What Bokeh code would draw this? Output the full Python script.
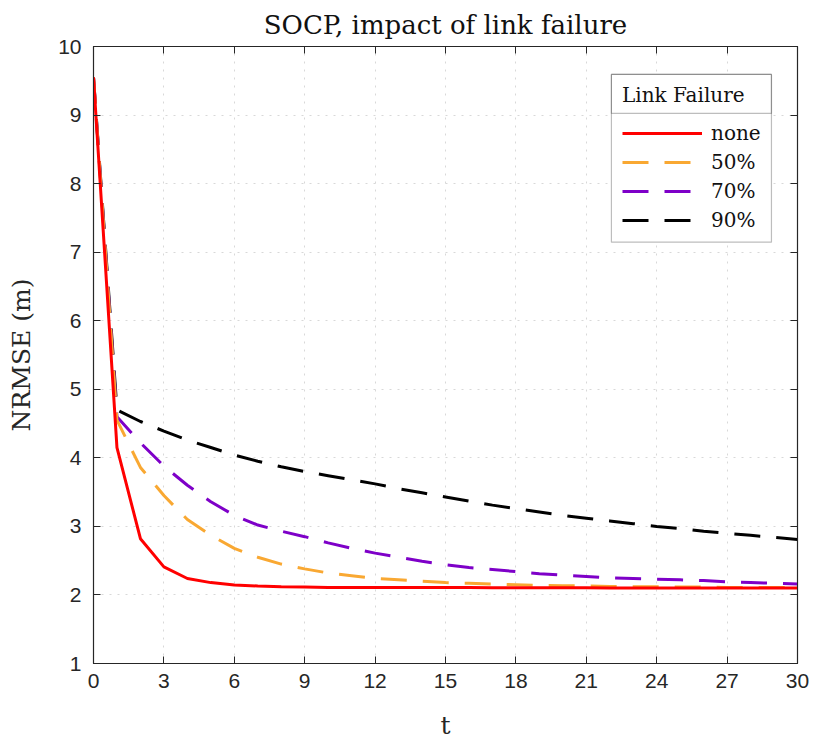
from bokeh.plotting import figure
from bokeh.models import Legend, LegendItem, LinearAxis, Range1d, FixedTicker, BoxAnnotation
from bokeh.embed import file_html
from bokeh.resources import INLINE

t = list(range(0, 31))
none_vals = [9.55, 4.15, 2.82, 2.41, 2.24, 2.18, 2.145, 2.13, 2.12, 2.115, 2.11,
             2.11, 2.11, 2.11, 2.11, 2.11, 2.11, 2.105, 2.105, 2.105, 2.105,
             2.105, 2.1, 2.1, 2.1, 2.1, 2.1, 2.1, 2.1, 2.1, 2.1]
p50_vals = [9.55, 4.55, 3.86, 3.45, 3.1, 2.87, 2.68, 2.55, 2.45, 2.38, 2.32,
            2.28, 2.24, 2.22, 2.2, 2.18, 2.17, 2.16, 2.15, 2.14, 2.135,
            2.13, 2.125, 2.12, 2.12, 2.115, 2.115, 2.11, 2.11, 2.11, 2.11]
p70_vals = [9.55, 4.6, 4.22, 3.88, 3.6, 3.36, 3.16, 3.02, 2.93, 2.85, 2.76,
            2.68, 2.61, 2.55, 2.49, 2.44, 2.4, 2.37, 2.34, 2.31, 2.29,
            2.27, 2.25, 2.24, 2.23, 2.22, 2.21, 2.19, 2.18, 2.17, 2.16]
p90_vals = [9.55, 4.7, 4.53, 4.39, 4.26, 4.15, 4.04, 3.95, 3.87, 3.8, 3.74,
            3.68, 3.62, 3.55, 3.49, 3.43, 3.37, 3.31, 3.26, 3.21, 3.16,
            3.12, 3.08, 3.04, 3.0, 2.97, 2.93, 2.9, 2.87, 2.84, 2.81]
labels = ["none", "50%", "70%", "90%"]
x_ticks = list(range(0, 31, 3))
y_ticks = list(range(1, 11))

SERIF = "DejaVu Serif"
SANS = "Liberation Sans"
AXC = "#262626"

p = figure(width=813, height=742, output_backend="svg", toolbar_location=None,
           x_range=Range1d(0, 30), y_range=Range1d(1, 10),
           min_border_left=93, min_border_right=16, min_border_top=46, min_border_bottom=78,
           background_fill_color="white", border_fill_color="white")
p.outline_line_color = AXC
p.outline_line_width = 1.2

p.title.text = "SOCP, impact of link failure"
p.title.text_font = SERIF
p.title.text_font_size = "26px"
p.title.text_font_style = "normal"
p.title.align = "center"
p.title.text_color = "#111111"
p.title.offset = 0
p.title.standoff = 14

for ax in [p.xaxis[0], p.yaxis[0]]:
    ax.major_tick_in = 7
    ax.major_tick_out = 0
    ax.minor_tick_line_color = None
    ax.axis_line_color = AXC
    ax.major_tick_line_color = AXC
    ax.major_label_text_font = SANS
    ax.major_label_text_font_size = "21px"
    ax.major_label_text_color = "#262626"
    ax.axis_label_text_font = SERIF
    ax.axis_label_text_font_size = "25px"
    ax.axis_label_text_font_style = "normal"
    ax.axis_label_text_color = "#262626"

p.xaxis[0].ticker = FixedTicker(ticks=x_ticks)
p.yaxis[0].ticker = FixedTicker(ticks=y_ticks)
p.xaxis[0].axis_label = "t"
p.yaxis[0].axis_label = "NRMSE (m)"
p.xaxis[0].major_label_standoff = 10
p.yaxis[0].major_label_standoff = 12
p.xaxis[0].axis_label_standoff = 20
p.yaxis[0].axis_label_standoff = 19

top = LinearAxis(ticker=FixedTicker(ticks=x_ticks), major_tick_in=7, major_tick_out=0,
                 minor_tick_line_color=None, major_label_text_font_size="0px",
                 major_label_text_color=None,
                 major_label_standoff=0, axis_line_color=AXC, major_tick_line_color=AXC)
right = LinearAxis(ticker=FixedTicker(ticks=y_ticks), major_tick_in=7, major_tick_out=0,
                   minor_tick_line_color=None, major_label_text_font_size="0px",
                   major_label_text_color=None,
                   major_label_standoff=0, axis_line_color=AXC, major_tick_line_color=AXC)
p.add_layout(top, "above")
p.add_layout(right, "right")

p.xgrid.ticker = FixedTicker(ticks=x_ticks)
p.ygrid.ticker = FixedTicker(ticks=y_ticks)
for g in [p.xgrid[0], p.ygrid[0]]:
    g.grid_line_color = "#d8d8d8"
    g.grid_line_dash = "2 6"
    g.grid_line_width = 1

r90 = p.line(t, p90_vals, line_color="#000000", line_width=3, line_dash="26 16")
r70 = p.line(t, p70_vals, line_color="#7E00C8", line_width=3, line_dash="26 16")
r50 = p.line(t, p50_vals, line_color="#F9A832", line_width=3, line_dash="26 16")
r0 = p.line(t, none_vals, line_color="#FF0000", line_width=3)

# white backing and outlines of the legend (legend itself is transparent)
legend_bg = BoxAnnotation(left=22.07, right=28.89, top=9.592, bottom=7.146,
                          fill_color="white", fill_alpha=1, line_color=AXC, line_width=1.2)
title_cell = BoxAnnotation(left=22.07, right=28.89, top=9.592, bottom=9.024,
                           fill_alpha=0, line_color=AXC, line_width=1.2)
p.add_layout(legend_bg)
p.add_layout(title_cell)

legend = Legend(items=[LegendItem(label=labels[0], renderers=[r0]),
                       LegendItem(label=labels[1], renderers=[r50]),
                       LegendItem(label=labels[2], renderers=[r70]),
                       LegendItem(label=labels[3], renderers=[r90])],
                location=(529, 431), title="Link Failure")
legend.title_text_font = SERIF
legend.title_text_font_size = "20px"
legend.title_text_font_style = "normal"
legend.title_text_color = "#111111"
legend.title_standoff = 14
legend.label_text_font = SERIF
legend.label_text_font_size = "20px"
legend.label_text_color = "#111111"
legend.glyph_width = 80
legend.glyph_height = 20
legend.label_height = 20
legend.label_width = 52
legend.label_standoff = 9
legend.spacing = 5
legend.padding = 9
legend.margin = 0
legend.border_line_color = None
legend.background_fill_alpha = 0
p.add_layout(legend, "center")

with open("out.html", "w") as f:
    f.write(file_html(p, INLINE))
